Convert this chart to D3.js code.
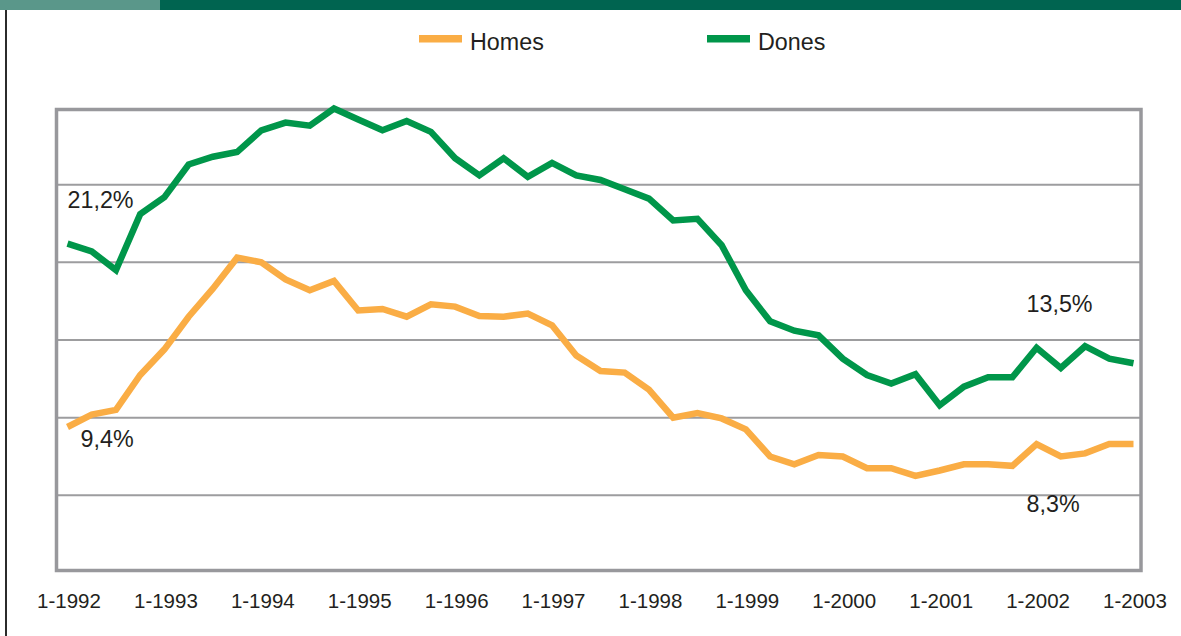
<!DOCTYPE html>
<html>
<head>
<meta charset="utf-8">
<script src="https://cdn.jsdelivr.net/npm/d3@7"></script>
<style>
  body { margin: 0; background: #fff; }
  svg { display: block; font-family: "Liberation Sans", Arial, sans-serif; }
</style>
</head>
<body>
<div id="chart"></div>
<script>
// quarterly series, 1-1992 .. 1-2003 (%)
var homes = [9.4, 10.2, 10.5, 12.75, 14.4, 16.5, 18.3, 20.3, 20.0, 18.9, 18.2, 18.8,
  16.9, 17.0, 16.5, 17.3, 17.15, 16.55, 16.5, 16.7, 15.95, 14.0, 13.0, 12.9,
  11.8, 10.0, 10.3, 9.95, 9.25, 7.5, 7.0, 7.6, 7.5, 6.75, 6.75, 6.25,
  6.6, 7.0, 7.0, 6.9, 8.3, 7.5, 7.7, 8.3, 8.3];
var dones = [21.2, 20.7, 19.5, 23.1, 24.2, 26.3, 26.8, 27.1, 28.5, 29.0, 28.8, 29.9,
  29.2, 28.5, 29.1, 28.4, 26.7, 25.6, 26.7, 25.5, 26.4, 25.6, 25.3, 24.7,
  24.1, 22.7, 22.8, 21.1, 18.2, 16.2, 15.6, 15.3, 13.8, 12.75, 12.2, 12.8,
  10.8, 12.0, 12.6, 12.6, 14.5, 13.2, 14.6, 13.8, 13.5];
var years = ["1992", "1993", "1994", "1995", "1996", "1997", "1998", "1999", "2000", "2001", "2002", "2003"];
var gridValues = [5, 10, 15, 20, 25];
var seriesNames = ["Homes", "Dones"];
var notes = [
  { text: "21,2%", series: 1, i: 0 },
  { text: "9,4%", series: 0, i: 0 },
  { text: "13,5%", series: 1, i: 44 },
  { text: "8,3%", series: 0, i: 44 }
];

var W = 1181, H = 636;
var orange = "#FAAD45", green = "#00964A", textCol = "#231F20";

var svg = d3.select("#chart").append("svg")
  .attr("width", W)
  .attr("height", H);

// header band + left rule
svg.append("rect").attr("x", 0).attr("y", 0).attr("width", W).attr("height", 10).attr("fill", "#006450");
svg.append("rect").attr("x", 0).attr("y", 0).attr("width", 160).attr("height", 10).attr("fill", "#5A978A");
svg.append("rect").attr("x", 5).attr("y", 10).attr("width", 2).attr("height", H - 10).attr("fill", "#2b2b2b");

var x = d3.scaleLinear().domain([0, 44]).range([67.5, 1133.5]);
var y = d3.scaleLinear().domain([0, 30]).range([573, 107]);

// grid
svg.selectAll(".grid")
  .data(gridValues)
  .enter()
  .append("line")
  .attr("x1", 58)
  .attr("x2", 1140)
  .attr("y1", (d) => y(d))
  .attr("y2", (d) => y(d))
  .attr("stroke", "#9d9d9f")
  .attr("stroke-width", 2);

// plot box
svg.append("rect")
  .attr("x", 56.5)
  .attr("y", 109.5)
  .attr("width", 1084.5)
  .attr("height", 461)
  .attr("fill", "none")
  .attr("stroke", "#98989c")
  .attr("stroke-width", 3.5);

// x labels
svg.selectAll(".xlab")
  .data(years)
  .enter()
  .append("text")
  .attr("x", (d, i) => x(i * 4) + 1.5)
  .attr("y", 608)
  .attr("text-anchor", "middle")
  .attr("font-size", 20.5)
  .attr("fill", textCol)
  .text((d) => "1-" + d);

var line = d3.line()
  .x((d, i) => x(i))
  .y((d) => y(d));

[homes, dones].forEach(function (s, k) {
  svg.append("path")
    .datum(s)
    .attr("d", line)
    .attr("fill", "none")
    .attr("stroke", k === 0 ? orange : green)
    .attr("stroke-width", 6.5)
    .attr("stroke-linejoin", "miter");
});

// value notes
var notePos = [
  { dx: 0, y: 208 },
  { dx: 13, y: 447 },
  { dx: -107, y: 311.5 },
  { dx: -107, y: 511.5 }
];
notes.forEach(function (n, j) {
  svg.append("text")
    .attr("x", x(n.i) + notePos[j].dx)
    .attr("y", notePos[j].y)
    .attr("font-size", 23.3)
    .attr("fill", textCol)
    .text(n.text);
});

// legend
var legX = [419, 707];
seriesNames.forEach(function (name, k) {
  svg.append("rect")
    .attr("x", legX[k])
    .attr("y", 35)
    .attr("width", 43)
    .attr("height", 7.5)
    .attr("fill", k === 0 ? orange : green);
  svg.append("text")
    .attr("x", legX[k] + 51)
    .attr("y", 49.5)
    .attr("font-size", 23.3)
    .attr("fill", textCol)
    .text(name);
});
</script>
</body>
</html>
